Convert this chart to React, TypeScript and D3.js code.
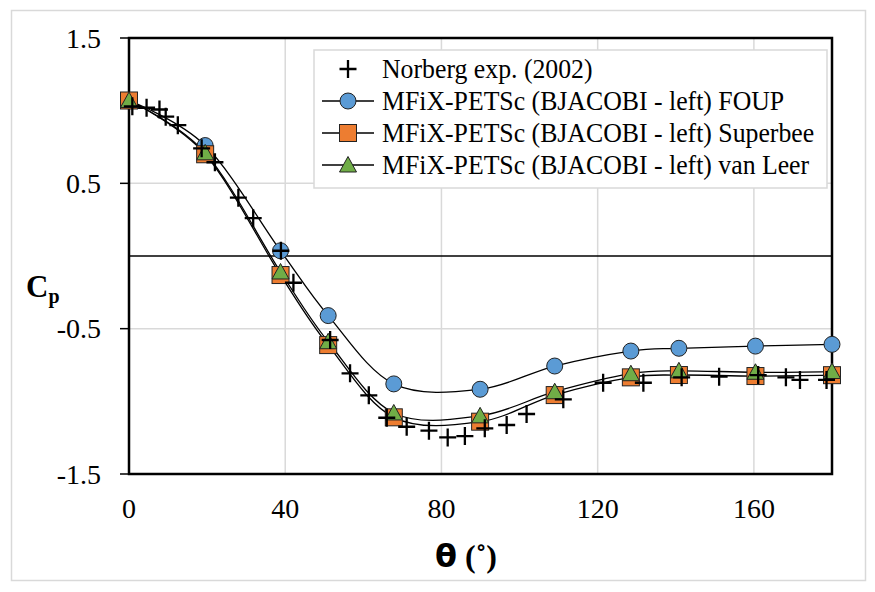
import React, { useEffect, useRef } from "react";
import * as d3 from "d3";

// simulation angles (deg) and pressure coefficients
const thetaSim = [0, 19.5, 38.8, 51.0, 67.8, 89.9, 109.0, 128.5, 140.8, 160.4, 180];
const cpFoup = [1.07, 0.76, 0.036, -0.41, -0.88, -0.917, -0.757, -0.654, -0.635, -0.62, -0.608];
const cpSuperbee = [1.07, 0.7, -0.131, -0.613, -1.11, -1.14, -0.957, -0.835, -0.819, -0.826, -0.82];
const cpVanLeer = [1.07, 0.71, -0.11, -0.59, -1.08, -1.1, -0.934, -0.81, -0.79, -0.8, -0.795];

// Norberg experiment
const thetaExp = [0.85, 4.5, 7.8, 9.4, 12.5, 18.6, 22.0, 28.0, 31.8, 38.9, 42.1, 51.5, 56.6, 61.4, 66.0, 71.1, 76.8, 81.6, 86.0, 91.1, 96.7, 101.8, 111.2, 121.4, 131.7, 141.5, 151.1, 161.1, 168.2, 171.8, 178.6];
const cpExp = [1.03, 1.02, 1.008, 0.959, 0.9, 0.741, 0.645, 0.401, 0.26, 0.036, -0.184, -0.578, -0.807, -0.959, -1.113, -1.175, -1.202, -1.248, -1.239, -1.186, -1.163, -1.087, -0.986, -0.872, -0.872, -0.835, -0.83, -0.819, -0.835, -0.853, -0.853];

const xTicks = [0, 40, 80, 120, 160];
const yTicks = [-1.5, -0.5, 0.5, 1.5];
const yTickLabels = ["-1.5", "-0.5", "0.5", "1.5"];
const legendLabels = [
  "Norberg exp. (2002)",
  "MFiX-PETSc (BJACOBI - left) FOUP",
  "MFiX-PETSc (BJACOBI - left) Superbee",
  "MFiX-PETSc (BJACOBI - left) van Leer",
];

const W = 875;
const H = 592;
const FONT = "'Liberation Serif', serif";

const App = () => {
  const ref = useRef<SVGSVGElement>(null);

  useEffect(() => {
    document.body.style.margin = "0";
    const svg = d3.select(ref.current);
    svg.selectAll("*").remove();

    const left = 129, right = 832, top = 38, bottom = 474;
    const x = d3.scaleLinear([0, 180], [left, right]);
    const y = d3.scaleLinear([-1.5, 1.5], [bottom, top]);

    svg.append("rect").attr("width", W).attr("height", H).attr("fill", "#fff");
    svg.append("rect")
      .attr("x", 11.5).attr("y", 10.5).attr("width", 854).attr("height", 570)
      .attr("fill", "none").attr("stroke", "#d9d9d9").attr("stroke-width", 1.5);

    // gridlines
    const grid = svg.append("g").attr("stroke", "#d9d9d9").attr("stroke-width", 1.5);
    xTicks.filter((t) => t > 0).forEach((t) => {
      grid.append("line").attr("x1", x(t)).attr("x2", x(t)).attr("y1", top).attr("y2", bottom);
    });
    [-0.5, 0.5].forEach((t) => {
      grid.append("line").attr("x1", left).attr("x2", right).attr("y1", y(t)).attr("y2", y(t));
    });

    // zero line
    svg.append("line")
      .attr("x1", left).attr("x2", right).attr("y1", y(0)).attr("y2", y(0))
      .attr("stroke", "#000").attr("stroke-width", 1.5);

    // frame + y ticks
    svg.append("rect")
      .attr("x", left).attr("y", top).attr("width", right - left).attr("height", bottom - top)
      .attr("fill", "none").attr("stroke", "#000").attr("stroke-width", 2.5);
    yTicks.forEach((t, i) => {
      svg.append("line").attr("x1", left - 9).attr("x2", left).attr("y1", y(t)).attr("y2", y(t))
        .attr("stroke", "#000").attr("stroke-width", 1.5);
      svg.append("text").attr("x", 101).attr("y", y(t)).attr("dy", "0.35em")
        .attr("text-anchor", "end").attr("font-family", FONT).attr("font-size", 28)
        .text(yTickLabels[i]);
    });
    xTicks.forEach((t) => {
      svg.append("text").attr("x", x(t)).attr("y", 518)
        .attr("text-anchor", "middle").attr("font-family", FONT).attr("font-size", 28)
        .text(t);
    });

    // axis titles
    const xt = svg.append("text").attr("x", 466).attr("y", 567).attr("text-anchor", "middle")
      .attr("font-size", 32).attr("font-weight", "bold");
    xt.append("tspan").attr("font-family", "'DejaVu Sans', sans-serif").text("θ");
    xt.append("tspan").attr("font-family", FONT).text(" (˚)");

    const yt = svg.append("text").attr("x", 26).attr("y", 297)
      .attr("font-family", FONT).attr("font-size", 31).attr("font-weight", "bold");
    yt.append("tspan").text("C");
    yt.append("tspan").attr("font-size", 20).attr("dy", 6).text("p");

    // series
    const line = d3.line<number>()
      .x((d, i) => x(thetaSim[i]))
      .y((d) => y(d))
      .curve(d3.curveCardinal.tension(0));

    const series = [
      { data: cpFoup, fill: "#5b9bd5", shape: "circle" },
      { data: cpSuperbee, fill: "#ed7d31", shape: "square" },
      { data: cpVanLeer, fill: "#70ad47", shape: "triangle" },
    ];
    series.forEach((s) => {
      svg.append("path").attr("d", line(s.data)).attr("fill", "none")
        .attr("stroke", "#000").attr("stroke-width", 1.3);
    });

    const drawMarker = (g, shape, cx, cy, fill) => {
      if (shape === "circle") {
        g.append("circle").attr("cx", cx).attr("cy", cy).attr("r", 8);
      } else if (shape === "square") {
        g.append("rect").attr("x", cx - 8.5).attr("y", cy - 8.5).attr("width", 17).attr("height", 17);
      } else if (shape === "triangle") {
        g.append("path").attr("d", `M${cx},${cy - 8.5}L${cx + 8.5},${cy + 7}L${cx - 8.5},${cy + 7}Z`);
      }
      g.attr("fill", fill).attr("stroke", "#222").attr("stroke-width", 1);
    };
    const drawCross = (g, cx, cy) => {
      g.append("path").attr("d", `M${cx - 8.5},${cy}H${cx + 8.5}M${cx},${cy - 9}V${cy + 9}`)
        .attr("stroke", "#000").attr("stroke-width", 2.3).attr("fill", "none");
    };

    series.forEach((s) => {
      s.data.forEach((v, i) => {
        drawMarker(svg.append("g"), s.shape, x(thetaSim[i]), y(v), s.fill);
      });
    });
    thetaExp.forEach((t, i) => drawCross(svg, x(t), y(cpExp[i])));

    // legend
    const lg = svg.append("g");
    lg.append("rect").attr("x", 314).attr("y", 50).attr("width", 513).attr("height", 138)
      .attr("fill", "#fff").attr("stroke", "#d9d9d9").attr("stroke-width", 1.5);
    legendLabels.forEach((label, i) => {
      const cy = 69 + i * 32;
      if (i === 0) {
        drawCross(lg, 348, cy);
      } else {
        lg.append("line").attr("x1", 322).attr("x2", 374).attr("y1", cy).attr("y2", cy)
          .attr("stroke", "#000").attr("stroke-width", 1.3);
        drawMarker(lg.append("g"), series[i - 1].shape, 348, cy, series[i - 1].fill);
      }
      lg.append("text").attr("transform", `translate(382,${cy}) scale(0.955,1)`)
        .attr("dy", "0.35em")
        .attr("font-family", FONT).attr("font-size", 27).text(label);
    });
  }, []);

  return <svg ref={ref} width={W} height={H} style={{ display: "block" }}></svg>;
};

export default App;
